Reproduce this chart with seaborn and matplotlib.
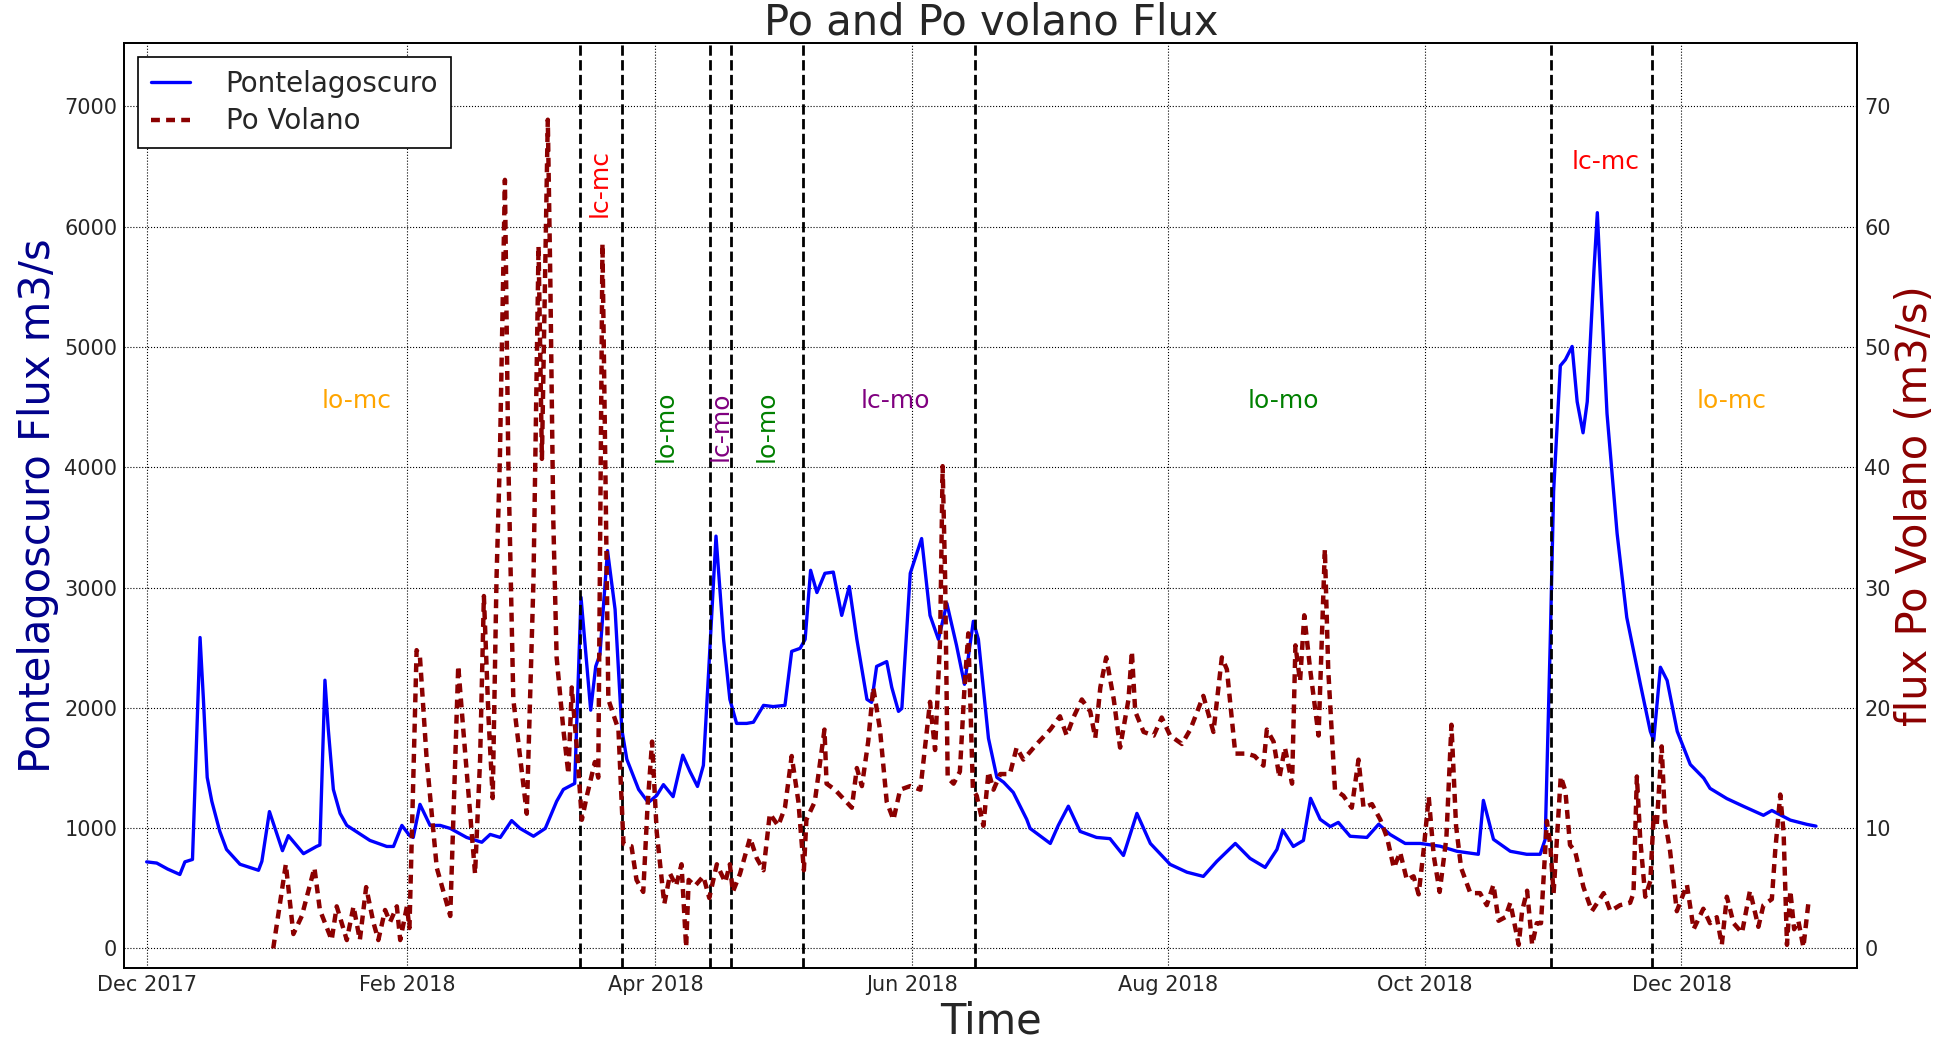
import pandas as pd
import numpy as np
import matplotlib
matplotlib.use("Agg")
import matplotlib.pyplot as plt
import matplotlib.dates as mdates
import seaborn as sns

# Pontelagoscuro flux (m3/s), days since 2017-12-01
po_days = [0, 2.4, 5, 7.9, 9.1, 10.9, 12.7, 13.5, 14.4, 15.5, 17.4, 19, 22.2, 26.6, 27.4, 29.2,
           32.3, 33.7, 37.3, 40.4, 41.2, 42.4, 43.2, 44.4, 46, 47.6, 53.1, 57.1, 58.7, 60.7, 62.5,
           63.4, 65, 67.4, 69.8, 72.2, 76.1, 79.7, 81.7, 84.1, 86.8, 88.8, 92, 94.8, 97.5,
           99.1, 101.8, 103.3, 105.6, 106.8, 107.8, 109.6, 111.4, 113, 114.2, 117, 119.3,
           121.3, 122.9, 125.2, 127.5, 129.2, 131, 132.4, 133.6, 135.4, 137.2, 138.7, 140.3,
           142.7, 144.3, 146.7, 149, 151.8, 153.4, 155.4, 156.6, 157.9, 159.4, 161.3, 163.3,
           165.3, 167.1, 168.9, 171.3, 172.4, 173.6, 176, 177.2, 178.8, 179.6, 181.6, 184.3,
           186.3, 188.3, 190.3, 192.6, 194.5, 196.6, 197.8, 200.2, 202.2, 203.8, 206.1, 209.3,
           210.1, 214.9, 216.8, 219.2, 222, 225.9, 229.1, 232.3, 235.5, 238.7, 243.4, 247.4,
           251.3, 254.5, 258.9, 262.4, 266, 268.8, 270.2, 272.7, 275.1, 276.8, 279.1, 281.5,
           283.4, 286.2, 290.2, 293, 295.7, 299.3, 302.9, 307.6, 311.6, 316.7, 317.9, 320.3,
           324.3, 328.2, 331.4, 332.6, 333.8, 334.6, 336.2, 337.4, 339, 340.2, 341.6, 342.6,
           344.2, 345, 345.7, 347.3, 349.7, 352, 355.2, 357.6, 358.4, 360, 361.6, 364, 367.1,
           370.3, 371.8, 375.8, 379.8, 384.5, 386.5, 390.9, 394.8, 397]
po_flux = [720, 710, 660, 615, 720, 740, 2585, 2071, 1422, 1223, 973, 823, 700, 650, 724, 1138,
           813, 938, 788, 848, 860, 2230, 1821, 1322, 1123, 1023, 898, 848, 848, 1023, 940,
           923, 1198, 1023, 1023, 998, 923, 883, 948, 923, 1063, 998, 933, 998, 1223,
           1322, 1372, 2919, 1981, 2345, 2445, 3308, 2819, 1821, 1572, 1322, 1213,
           1272, 1362, 1262, 1607, 1472, 1347, 1522, 2270, 3428, 2570, 2071, 1871,
           1871, 1881, 2021, 2011, 2021, 2470, 2495, 2570, 3144, 2959, 3119, 3129,
           2769, 3009, 2570, 2071, 2046, 2345, 2385, 2171, 1971, 1996, 3119, 3408,
           2769, 2570, 2869, 2520, 2196, 2720, 2570, 1747, 1422, 1382, 1297, 1073,
           998, 873, 1023, 1183, 973, 923, 913, 773, 1123, 873, 699, 634,
           599, 724, 873, 749, 674, 823, 983, 848, 898, 1248, 1073, 1013,
           1048, 933, 923, 1033, 948, 873, 873, 850, 808, 783, 1231, 907,
           808, 783, 783, 907, 2552, 3799, 4845, 4895, 5005, 4546, 4287, 4546,
           5643, 6117, 5593, 4447, 3450, 2752, 2203, 1805, 1730, 2338, 2228, 1805, 1530,
           1416, 1331, 1246, 1181, 1107, 1147, 1067, 1032, 1017]

# Po Volano flux (m3/s), days since 2017-12-01
vol_days = [30.1, 33.1, 34.9, 36.9, 39.9, 41.2, 44, 45.2, 47.6, 49.2, 50.7, 52.2, 53.9, 55.1,
            56.7, 57.9, 59.5, 60.3, 61.9, 62.5, 64.2, 65, 66.6, 69, 72.2, 74.1, 75.3, 78.1,
            79.3, 80.2, 81.3, 82.3, 83.2, 84, 85.2, 86, 87.2, 90.4, 92, 93.2, 94, 95.4, 96,
            96.7, 97.5, 99.1, 100.3, 101.1, 102.3, 103.5, 104.7, 106.6, 107.4, 108.4, 109.8,
            112.2, 113.4, 115.3, 116.5, 118.1, 119.1, 120.2, 121.3, 123.1, 124.5, 125.9, 127.2,
            128.3, 128.9, 130.4, 132.4, 133.8, 135.6, 137.6, 138.7, 139.4, 141.1, 143.5, 145.1,
            146.7, 148.2, 150.2, 151.8, 153.4, 155, 156.3, 156.9, 158.9, 161.2, 161.7, 163.7,
            167.7, 168.9, 170.1, 171.6, 172.8, 174.4, 176, 177.6, 179.2, 181.6, 184, 185.1,
            186.3, 187.5, 188.7, 189.3, 189.9, 190.5, 191.9, 193.4, 194.5, 195.4, 196.5, 197.4,
            199, 200.2, 201.4, 203, 205.3, 206.9, 208.5, 211.7, 214.9, 217.2, 218.8, 220.4,
            222.4, 224.4, 225.6, 226.8, 228.2, 230, 231.5, 233.5, 234.3, 235.1, 237.1, 239.5,
            241.4, 243.4, 246.2, 248.2, 251.3, 253.7, 255.7, 256.9, 258.9, 261.6, 263.5, 265.6,
            266.4, 268, 269.4, 270.7, 272.4, 273.2, 274.3, 275.3, 276.7, 278.7, 280.2, 281,
            282.6, 284.6, 286.6, 288.2, 289.4, 291.4, 293.4, 295, 296.6, 298.1, 299.7, 301.3,
            302.5, 303.7, 304.9, 306.1, 307.5, 309.1, 310.3, 311.4, 312.6, 314.8, 317.1, 318.7,
            320.3, 321.5, 323.1, 324.3, 326.3, 327.1, 328.3, 329.5, 330.6, 331.6, 333, 333.8,
            334.6, 336.3, 337.4, 338.5, 339.7, 341.7, 343.7, 346.5, 348.1, 350.4, 352.8, 353.6,
            354.4, 355.2, 356.4, 357.6, 358.4, 359.1, 360.3, 361.1, 362.3, 363.9, 366.3, 367.9,
            370.2, 371.8, 373.4, 374.6, 375.8, 377.4, 379.4, 381.3, 383.3, 384.5, 386.5, 387.3,
            388.5, 389.3, 390.1, 390.9, 391.8, 392.8, 394, 395.2]
vol_flux = [0, 7.0, 1.2, 2.7, 6.7, 3.2, 0.7, 3.5, 0.7, 3.5, 0.7, 5.1, 2.2, 0.7,
            3.2, 2.2, 3.5, 0.7, 3.5, 1.7, 24.8, 24.2, 15.7, 6.7, 2.7, 23.5, 18.2, 6.2,
            15.7, 29.3, 19.2, 12.5, 30.7, 40.7, 63.9, 40.7, 20.7, 11.2, 30.7, 58.4, 40.7, 68.9, 55.6,
            35.7, 24.2, 18.2, 14.5, 21.7, 16.7, 10.7, 12.7, 15.5, 14.2, 58.6, 20.7,
            18.2, 8.7, 8.5, 5.7, 4.7, 11.7, 17.2, 9.7, 3.7, 6.2, 5.2, 7.0,
            0.1, 5.7, 5.2, 6.0, 4.2, 7.0, 5.5, 7.0, 4.7, 6.2, 9.2, 7.5,
            6.5, 11.2, 10.2, 11.7, 16.0, 12.2, 6.5, 10.7, 12.2, 18.2, 13.7, 13.2,
            11.7, 15.0, 13.5, 17.2, 21.7, 18.2, 12.2, 10.7, 13.2, 13.5, 13.2, 16.7,
            20.5, 16.5, 25.7, 40.1, 30.7, 14.2, 13.7, 14.7, 21.7, 26.2, 13.2, 12.7,
            10.2, 14.7, 13.2, 14.5, 14.5, 16.7, 15.7, 17.0, 18.2, 19.3, 17.7, 19.2,
            20.7, 19.7, 17.5, 21.7, 24.2, 20.7, 16.7, 20.7, 24.7, 19.7, 18.0, 17.7,
            19.2, 17.7, 17.0, 18.2, 21.0, 18.0, 24.2, 23.2, 16.2, 16.2, 16.0, 15.2,
            18.2, 17.2, 14.2, 16.7, 13.7, 25.2, 22.2, 27.7, 23.2, 17.7, 33.2, 23.2,
            13.2, 12.7, 11.7, 15.7, 11.7, 12.0, 10.7, 9.2, 6.7, 8.0, 5.7, 6.0,
            4.5, 8.2, 12.6, 7.7, 4.7, 9.2, 18.6, 10.2, 6.7, 4.6, 4.6, 3.6,
            5.3, 2.3, 2.6, 3.8, 0.3, 3.1, 4.8, 0.3, 2.1, 2.1, 10.6, 8.6,
            4.6, 14.3, 13.1, 8.6, 8.1, 5.1, 3.1, 4.6, 3.1, 3.6, 3.8, 4.6,
            14.3, 9.1, 4.3, 5.6, 11.1, 10.1, 16.8, 10.6, 8.1, 3.1, 5.3, 1.6,
            3.3, 2.1, 2.6, 0.3, 4.3, 2.1, 1.3, 4.8, 1.8, 3.6, 4.1, 8.1,
            12.8, 9.6, 0.3, 4.8, 1.6, 2.3, 0.1, 3.8]

# period boundaries
boundaries = ["2018-03-14", "2018-03-24", "2018-04-14", "2018-04-19",
              "2018-05-06", "2018-06-16", "2018-10-31", "2018-11-24"]

# period labels: text, colour, date, y, rotation
period_labels = [
    ("lo-mc", "orange", "2018-01-20", 4550, 0),
    ("lc-mc", "red", "2018-03-18 16:00", 6360, 90),
    ("lo-mo", "green", "2018-04-03 12:00", 4340, 90),
    ("lc-mo", "purple", "2018-04-16 14:00", 4340, 90),
    ("lo-mo", "green", "2018-04-27 12:00", 4340, 90),
    ("lc-mo", "purple", "2018-05-28", 4550, 0),
    ("lo-mo", "green", "2018-08-28 10:00", 4550, 0),
    ("lc-mc", "red", "2018-11-13", 6540, 0),
    ("lo-mc", "orange", "2018-12-13", 4550, 0),
]

start = pd.Timestamp("2017-12-01")
po = pd.DataFrame({"time": start + pd.to_timedelta(po_days, unit="D"), "flux": po_flux})
vol = pd.DataFrame({"time": start + pd.to_timedelta(vol_days, unit="D"), "flux": vol_flux})

sns.set_style("white")
plt.rcParams["font.family"] = ["DejaVu Sans"]

fig, ax1 = plt.subplots(figsize=(19.41, 10.44), dpi=100)
fig.subplots_adjust(left=0.064, right=0.9569, bottom=0.0725, top=0.9585)

sns.lineplot(data=po, x="time", y="flux", ax=ax1, color="b", lw=2.4,
             estimator=None, sort=False, label="Pontelagoscuro")
ax2 = ax1.twinx()
sns.lineplot(data=vol, x="time", y="flux", ax=ax2, color="darkred", lw=3.2,
             linestyle=(0, (2.0, 1.4)), estimator=None, sort=False, label="Po Volano")

for d in boundaries:
    ax1.axvline(pd.Timestamp(d), color="k", ls="--", lw=2)

for txt, col, d, y, rot in period_labels:
    ax1.text(pd.Timestamp(d), y, txt, color=col, fontsize=18, rotation=rot,
             ha="center", va="center")

ax1.set_xlim(pd.Timestamp("2017-11-25 16:00"), pd.Timestamp("2019-01-11 20:00"))
ax1.set_ylim(-165, 7525)
ax2.set_ylim(-1.65, 75.25)
ax1.set_yticks(np.arange(0, 7001, 1000))
ax2.set_yticks(np.arange(0, 71, 10))
ax1.xaxis.set_major_locator(mdates.MonthLocator(bymonth=[2, 4, 6, 8, 10, 12]))
ax1.xaxis.set_major_formatter(mdates.DateFormatter("%b %Y"))

ax1.grid(True, linestyle=":", color="k", linewidth=0.8)
ax2.grid(False)
for ax in (ax1, ax2):
    ax.tick_params(labelsize=15, length=0, pad=5)
    for s in ax.spines.values():
        s.set_color("k")
        s.set_linewidth(1.3)

ax1.set_title("Po and Po volano Flux", fontsize=30, pad=4)
ax1.set_xlabel("Time", fontsize=30, labelpad=4)
ax1.set_ylabel("Pontelagoscuro Flux m3/s", fontsize=30, color="darkblue", labelpad=4)
ax2.set_ylabel("flux Po Volano (m3/s)", fontsize=30, color="darkred", labelpad=2)

h1, l1 = ax1.get_legend_handles_labels()
h2, l2 = ax2.get_legend_handles_labels()
ax1.get_legend().remove()
ax2.get_legend().remove()
leg = ax2.legend(h1 + h2, l1 + l2, loc="upper left", fontsize=20, fancybox=False,
                 framealpha=1, edgecolor="k", handlelength=1.4, handletextpad=1.3,
                 borderpad=0.45, borderaxespad=0.5, labelspacing=0.35)
leg.get_frame().set_linewidth(1.2)

fig.savefig("out.png", dpi=100)
